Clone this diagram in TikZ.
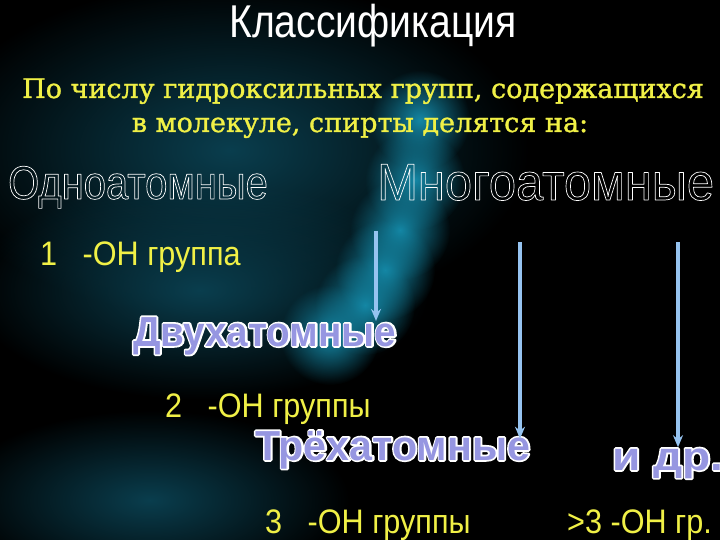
\documentclass[tikz,border=0pt]{standalone}
\usepackage{fontspec}
\setmainfont{Liberation Serif}
\newfontfamily\serifschrift[FakeBold=1.2]{DejaVu Serif}
\newfontfamily\titelschrift[FakeStretch=0.85]{Liberation Sans}
\newfontfamily\schmalschrift[FakeStretch=0.9]{Liberation Sans}
\newfontfamily\duennschrift[FakeStretch=0.85]{Liberation Sans}
\newfontfamily\grossschrift[FakeStretch=0.94]{Liberation Sans}
\newfontfamily\fettschrift[FakeStretch=0.92]{Liberation Sans}
\newfontfamily\dreischrift[FakeStretch=0.98]{Liberation Sans}
\newfontfamily\breitschrift[FakeStretch=1.15]{Liberation Sans}
\usetikzlibrary{fadings,arrows.meta}

\definecolor{gelb}{RGB}{240,240,70}
\definecolor{pfeilblau}{RGB}{150,195,240}
\definecolor{lila}{RGB}{150,150,225}
\definecolor{tuerkis}{RGB}{20,135,165}
\definecolor{dunkeltuerkis}{RGB}{10,62,78}

\tikzfading[name=schein, inner color=transparent!0, outer color=transparent!100]

% Umrissschrift
\newcommand{\umriss}[1]{\special{pdf:literal 1 Tr 0.7 w 1 j}#1\special{pdf:literal 0 Tr}}
\newcommand{\randtext}[1]{\special{pdf:literal 2 Tr 3.5 w 1 j}#1\special{pdf:literal 0 Tr}}

\begin{document}
\begin{tikzpicture}[x=1pt, y=-1pt,
		schrift/.style = {inner sep=0pt, anchor=base west},
		titel/.style = {schrift, anchor=base, text=white, font=\titelschrift\fontsize{46}{46}\selectfont},
		frage/.style = {schrift, anchor=base, text=gelb, font=\serifschrift\fontsize{27}{27}\selectfont},
		anzahl/.style = {schrift, text=gelb, font=\schmalschrift\fontsize{34}{34}\selectfont},
		hohl/.style = {schrift, text=white},
		rand/.style = {schrift, text=white, font=\fettschrift\bfseries\fontsize{42}{42}\selectfont},
		voll/.style = {schrift, text=lila, font=\fettschrift\bfseries\fontsize{42}{42}\selectfont},
		pfeil/.style = {draw=pfeilblau, line width=3.2pt, -{Stealth[length=12pt, width=10pt]}}
	]
	\useasboundingbox (0,0) rectangle (720,540);
	% Hintergrund
	\fill[black] (0,0) rectangle (720,540);
	\fill[dunkeltuerkis, path fading=schein] (230,150) ellipse (300 and 170);
	\fill[dunkeltuerkis, path fading=schein] (200,290) ellipse (230 and 110);
	\fill[dunkeltuerkis, path fading=schein] (150,500) ellipse (200 and 90);
	\foreach \x/\y in {420/120, 415/180, 400/230, 385/270, 365/305, 330/335}
		\fill[tuerkis, path fading=schein] (\x,\y) circle (50);

	% Ueberschrift
	\node[titel] (titel) at (373,38) {Классификация};
	\node[frage] (zeile1) at (363,98) {По числу гидроксильных групп, содержащихся};
	\node[frage] (zeile2) at (360,132) {в молекуле, спирты делятся на:};

	% Einteilung
	\node[hohl, font=\duennschrift\fontsize{47}{47}\selectfont] (ein) at (8,199) {\umriss{Одноатомные}};
	\node[hohl, font=\grossschrift\fontsize{52}{52}\selectfont] (viel) at (377,200) {\umriss{Многоатомные}};
	\node[anzahl] (oh1) at (40,265) {1\ \ \ -OH группа};

	\node[rand] (zwei) at (133,346) {\randtext{Двухатомные}};
	\node[voll] (zweiF) at (zwei.base west) {Двухатомные};
	\node[anzahl] (oh2) at (165,417) {2\ \ \ -OH группы};

	\node[rand, font=\dreischrift\bfseries\fontsize{42}{42}\selectfont] (drei) at (255,460) {\randtext{Трёхатомные}};
	\node[voll, font=\dreischrift\bfseries\fontsize{42}{42}\selectfont] (dreiF) at (drei.base west) {Трёхатомные};
	\node[anzahl] (oh3) at (265,533) {3\ \ \ -OH группы};

	\node[rand, font=\breitschrift\bfseries\fontsize{40}{40}\selectfont] (mehr) at (612,470) {\randtext{и др.}};
	\node[voll, font=\breitschrift\bfseries\fontsize{40}{40}\selectfont] (mehrF) at (mehr.base west) {и др.};
	\node[anzahl] (ohn) at (567,533) {>3 -OH гр.};

	% Pfeile
	\coordinate (p1) at (376,231);
	\coordinate (p2) at (520,242);
	\coordinate (p3) at (678,242);
	\draw[pfeil] (p1) -- ([yshift=-4pt]p1 |- zwei.north);
	\draw[pfeil] (p2) -- ([yshift=-8pt]p2 |- drei.north);
	\draw[pfeil] (p3) -- ([yshift=1pt]p3 |- mehr.north);
\end{tikzpicture}
\end{document}
